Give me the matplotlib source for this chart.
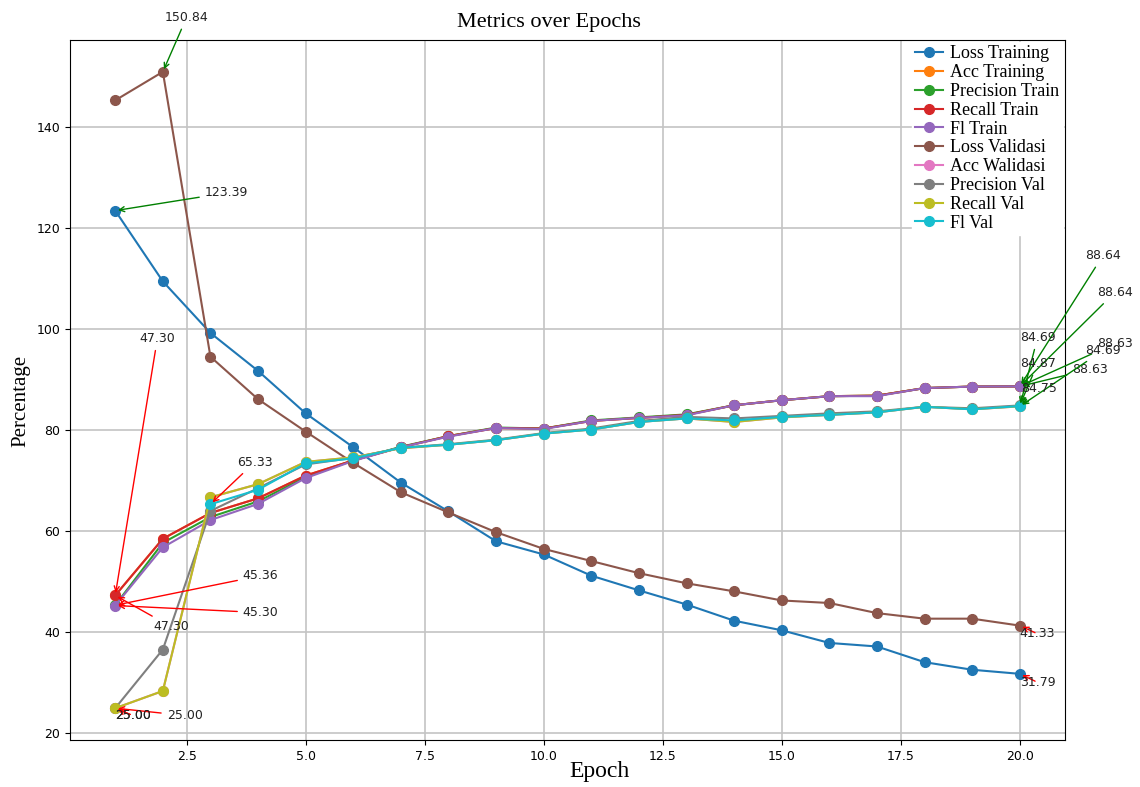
import numpy as np
import matplotlib
matplotlib.use("Agg")
import matplotlib.pyplot as plt

epochs = list(range(1, 21))

loss_training = [123.39, 109.4, 99.2, 91.7, 83.3, 76.6, 69.6, 63.9, 58.0, 55.4,
                 51.2, 48.3, 45.5, 42.3, 40.4, 37.9, 37.2, 34.1, 32.6, 31.79]
acc_training = [47.30, 58.5, 63.6, 66.5, 71.0, 74.0, 76.6, 78.8, 80.4, 80.3,
                81.8, 82.4, 83.0, 84.9, 85.9, 86.7, 86.8, 88.3, 88.6, 88.64]
precision_train = [45.36, 57.7, 62.8, 65.9, 70.7, 74.0, 76.7, 78.8, 80.5, 80.3,
                   81.9, 82.5, 83.1, 84.9, 85.9, 86.7, 86.8, 88.3, 88.6, 88.64]
recall_train = [47.30, 58.5, 63.6, 66.5, 71.0, 74.0, 76.6, 78.8, 80.4, 80.3,
                81.8, 82.4, 83.0, 84.9, 85.9, 86.7, 86.8, 88.3, 88.6, 88.63]
f1_train = [45.30, 56.8, 62.2, 65.4, 70.5, 73.9, 76.6, 78.7, 80.4, 80.2,
            81.8, 82.4, 82.9, 84.9, 85.9, 86.7, 86.7, 88.3, 88.6, 88.63]
loss_validasi = [145.2, 150.84, 94.5, 86.1, 79.7, 73.5, 67.7, 63.7, 59.8, 56.5,
                 54.1, 51.7, 49.7, 48.1, 46.3, 45.8, 43.8, 42.7, 42.7, 41.33]
acc_validasi = [25.00, 28.4, 66.7, 69.3, 73.7, 74.6, 76.4, 77.1, 78.0, 79.3,
                80.1, 81.6, 82.3, 81.6, 82.5, 83.0, 83.5, 84.6, 84.1, 84.69]
precision_val = [25.00, 36.6, 64.0, 68.5, 73.2, 74.5, 76.5, 77.2, 78.1, 79.4,
                 80.3, 81.8, 82.6, 82.3, 82.8, 83.3, 83.7, 84.6, 84.3, 84.87]
recall_val = [25.00, 28.4, 66.7, 69.3, 73.7, 74.6, 76.4, 77.1, 78.0, 79.3,
              80.1, 81.6, 82.3, 81.6, 82.5, 83.0, 83.5, 84.6, 84.1, 84.69]
f1_val = [np.nan, np.nan, 65.33, 68.2, 73.4, 74.4, 76.5, 77.1, 78.0, 79.3,
          80.1, 81.6, 82.3, 81.9, 82.6, 83.0, 83.5, 84.6, 84.1, 84.75]

series_names = ["Loss Training", "Acc Training", "Precision Train", "Recall Train",
                "Fl Train", "Loss Validasi", "Acc Walidasi", "Precision Val",
                "Recall Val", "Fl Val"]
series_values = [loss_training, acc_training, precision_train, recall_train,
                 f1_train, loss_validasi, acc_validasi, precision_val,
                 recall_val, f1_val]

# annotation text positions (data coords): series index -> (max pos, min pos)
annot_pos = {
    0: ((2.88, 126.9), (20.0, 30.1)),
    1: ((21.37, 114.5), (1.51, 98.1)),
    2: ((21.62, 107.2), (3.68, 51.2)),
    3: ((21.62, 97.1), (1.80, 41.1)),
    4: ((21.10, 92.0), (3.68, 43.9)),
    5: ((2.04, 161.6), (20.0, 39.7)),
    6: ((20.0, 98.3), (0.99, 23.55)),
    7: ((20.0, 93.2), (2.08, 23.55)),
    8: ((21.37, 95.7), (0.99, 23.55)),
    9: ((20.02, 88.2), (3.55, 73.6)),
}

W, H = 1140, 787
fig = plt.figure(figsize=(W / 100, H / 100), dpi=100)
ax = fig.add_axes([70 / W, 47 / H, 995 / W, 700 / H])

for name, vals in zip(series_names, series_values):
    ax.plot(epochs, vals, marker="o", markersize=7, linewidth=1.5, label=name)

for i, vals in enumerate(series_values):
    arr = np.array(vals, dtype=float)
    imax = int(np.nanargmax(arr))
    imin = int(np.nanargmin(arr))
    (mx, my), (nx, ny) = annot_pos[i]
    ax.annotate(f"{arr[imax]:.2f}", xy=(epochs[imax], arr[imax]), xytext=(mx, my),
                ha="left", va="center", fontsize=9, color="#222222",
                arrowprops=dict(arrowstyle="->", color="green", lw=1.0))
    ax.annotate(f"{arr[imin]:.2f}", xy=(epochs[imin], arr[imin]), xytext=(nx, ny),
                ha="left", va="center", fontsize=9, color="#222222",
                arrowprops=dict(arrowstyle="->", color="red", lw=1.0))

ax.grid(True, color="#c4c4c4", linewidth=1.2)
ax.set_axisbelow(True)
ax.tick_params(labelsize=9)

ax.set_title("Metrics over Epochs", family="Liberation Serif", fontsize=16,
             x=0.481, pad=9)
ax.set_xlabel("Epoch", family="Liberation Serif", fontsize=17)
ax.set_ylabel("Percentage", family="Liberation Serif", fontsize=15)
ax.xaxis.set_label_coords(0.532, -0.03)
ax.yaxis.set_label_coords(-0.040, 0.484)

leg = ax.legend(loc="upper right", prop={"family": "Liberation Serif", "size": 13},
                borderaxespad=0.1, labelspacing=0.1, handlelength=1.55,
                handletextpad=0.39, borderpad=0.2, framealpha=1.0,
                fancybox=False)
leg.get_frame().set_edgecolor("white")
leg.set_zorder(5)

fig.savefig("out.png", dpi=100)
